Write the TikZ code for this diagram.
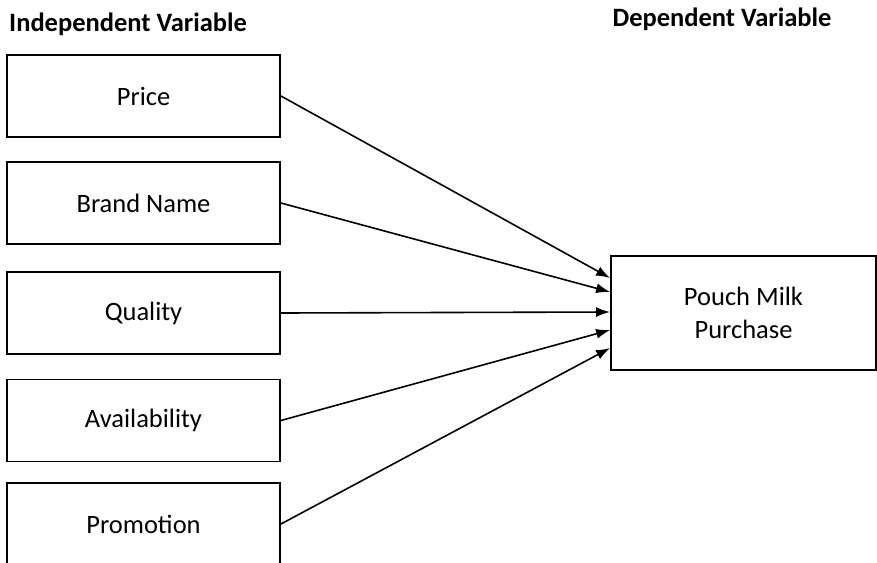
\documentclass[tikz,border=0pt]{standalone}
\usepackage{fontspec}
\setmainfont{Carlito}
\usetikzlibrary{arrows.meta}
\begin{document}
\begin{tikzpicture}[x=1pt,y=-1pt,
  var/.style={draw,line width=1.8pt,minimum width=273pt,minimum height=82pt,inner sep=0pt,font=\fontsize{26.5}{30}\selectfont},
  dep/.style={draw,line width=1.8pt,minimum width=265pt,minimum height=114pt,inner sep=0pt,align=center,font=\fontsize{26.5}{33}\selectfont},
  ttl/.style={font=\bfseries\fontsize{26.5}{30}\selectfont,inner sep=0pt},
  conn/.style={line width=1.6pt,-{Latex[length=14pt,width=10pt]}}]
\useasboundingbox (0,0) rectangle (877,562);
\node[ttl,anchor=west] (ti) at (9,24) {Independent Variable};
\node[ttl] (td) at (722,19) {Dependent Variable};
\node[var] (price) at (143.5,96) {Price};
\node[var] (brand) at (143.5,203) {Brand Name};
\node[var] (qual) at (143.5,313) {Quality};
\node[var] (avail) at (143.5,420.5) {Availability};
\node[var] (promo) at (143.5,524) {Promotion};
\node[dep] (pm) at (743.5,313) {Pouch Milk\\Purchase};
\draw[conn] (price.east) -- ([yshift=35pt]pm.west);
\draw[conn] (brand.east) -- ([yshift=21pt]pm.west);
\draw[conn] (qual.east) -- ([yshift=1pt]pm.west);
\draw[conn] (avail.east) -- ([yshift=-17pt]pm.west);
\draw[conn] (promo.east) -- ([yshift=-35pt]pm.west);
\end{tikzpicture}
\end{document}
